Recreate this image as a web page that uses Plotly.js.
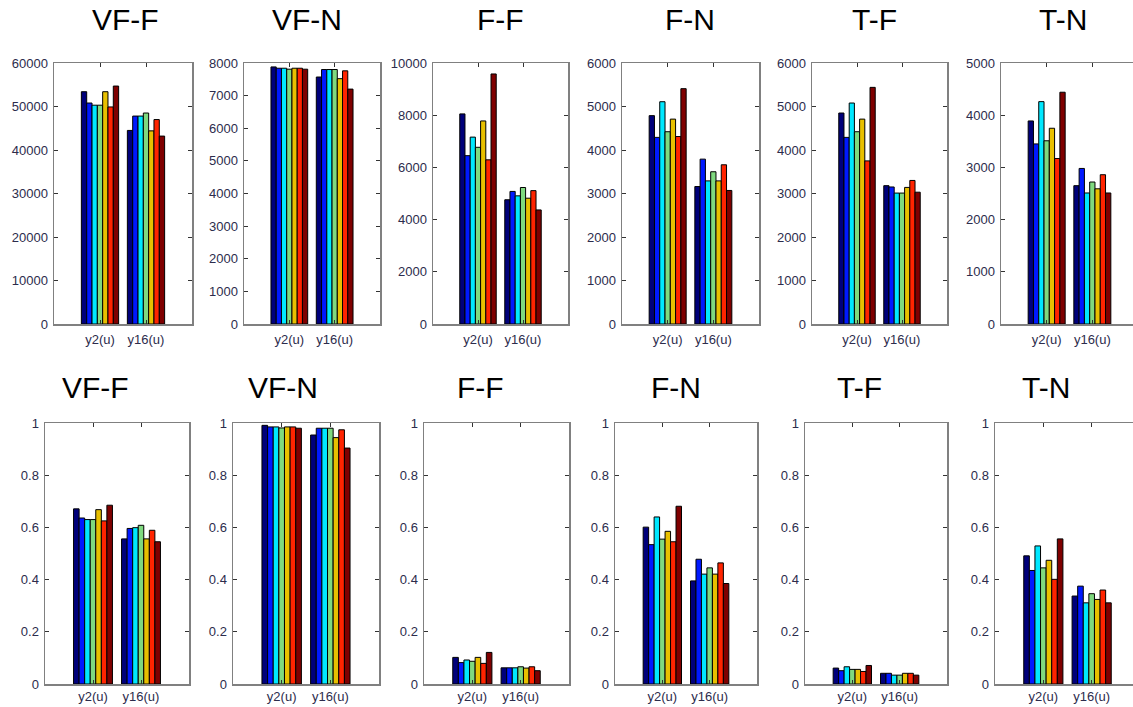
<!DOCTYPE html>
<html>
<head>
<meta charset="utf-8">
<script src="https://cdn.plot.ly/plotly-3.0.1.min.js"></script>
<style>html,body{margin:0;padding:0;background:#fff;}#chart{width:1133px;height:707px;}</style>
</head>
<body>
<div id="chart"></div>
<script>
// categories and series
const categories = ['y2(u)', 'y16(u)'];
const seriesColors = ['#00007a', '#0019ff', '#00e8ff', '#7fd97f', '#e8c000', '#ff2400', '#7f0000'];
const panelTitles = ['VF-F', 'VF-N', 'F-F', 'F-N', 'T-F', 'T-N'];

// top row (counts): [y2(u) values for 7 series], [y16(u) values for 7 series]
const countVFF_y2 = [53400, 50800, 50300, 50300, 53400, 49900, 54700];
const countVFF_y16 = [44500, 47800, 47800, 48500, 44400, 47000, 43200];
const countVFN_y2 = [7880, 7840, 7840, 7810, 7840, 7840, 7810];
const countVFN_y16 = [7570, 7800, 7800, 7800, 7520, 7760, 7200];
const countFF_y2 = [8050, 6450, 7160, 6770, 7780, 6290, 9580];
const countFF_y16 = [4760, 5080, 4910, 5230, 4820, 5110, 4370];
const countFN_y2 = [4790, 4290, 5110, 4420, 4710, 4310, 5410];
const countFN_y16 = [3160, 3790, 3290, 3500, 3290, 3660, 3070];
const countTF_y2 = [4850, 4290, 5080, 4420, 4710, 3750, 5440];
const countTF_y16 = [3180, 3150, 3010, 3010, 3140, 3300, 3030];
const countTN_y2 = [3890, 3450, 4260, 3510, 3750, 3170, 4440];
const countTN_y16 = [2650, 2980, 2510, 2720, 2590, 2860, 2510];

// bottom row (fractions)
const fracVFF_y2 = [0.671, 0.636, 0.630, 0.630, 0.668, 0.625, 0.685];
const fracVFF_y16 = [0.556, 0.596, 0.599, 0.608, 0.556, 0.589, 0.545];
const fracVFN_y2 = [0.991, 0.985, 0.985, 0.981, 0.985, 0.985, 0.980];
const fracVFN_y16 = [0.954, 0.980, 0.980, 0.980, 0.944, 0.974, 0.904];
const fracFF_y2 = [0.102, 0.082, 0.092, 0.087, 0.102, 0.079, 0.121];
const fracFF_y16 = [0.062, 0.062, 0.062, 0.066, 0.061, 0.066, 0.051];
const fracFN_y2 = [0.601, 0.534, 0.640, 0.555, 0.585, 0.545, 0.681];
const fracFN_y16 = [0.395, 0.478, 0.421, 0.445, 0.421, 0.464, 0.385];
const fracTF_y2 = [0.061, 0.051, 0.066, 0.056, 0.056, 0.048, 0.071];
const fracTF_y16 = [0.041, 0.041, 0.034, 0.034, 0.041, 0.041, 0.034];
const fracTN_y2 = [0.491, 0.435, 0.529, 0.445, 0.474, 0.401, 0.556];
const fracTN_y16 = [0.337, 0.375, 0.311, 0.346, 0.324, 0.360, 0.311];

const topYMax = [60000, 8000, 10000, 6000, 6000, 5000];
const topDtick = [10000, 1000, 2000, 1000, 1000, 1000];

const panels = [
  [countVFF_y2, countVFF_y16], [countVFN_y2, countVFN_y16], [countFF_y2, countFF_y16],
  [countFN_y2, countFN_y16], [countTF_y2, countTF_y16], [countTN_y2, countTN_y16],
  [fracVFF_y2, fracVFF_y16], [fracVFN_y2, fracVFN_y16], [fracFF_y2, fracFF_y16],
  [fracFN_y2, fracFN_y16], [fracTF_y2, fracTF_y16], [fracTN_y2, fracTN_y16]
];

const W = 1133, H = 707;
const topX = [[54,192],[244,380],[433,568],[622,759],[812,947],[1001,1138]];
const botX = [[45,189],[233,379],[424,569],[615,757],[805,947],[995,1140]];
const topY = [63, 324], botY = [423, 684];
const topTitleX = [125, 307, 500, 690, 874, 1063];
const botTitleX = [95, 283, 480, 676, 859, 1046];

const traces = [];
const layout = {
  width: W, height: H,
  margin: {l: 0, r: 0, t: 0, b: 0},
  paper_bgcolor: '#ffffff', plot_bgcolor: '#ffffff',
  showlegend: false,
  barmode: 'group', bargap: 0.19, bargroupgap: 0,
  font: {family: 'Liberation Sans, Arial, sans-serif'},
  annotations: []
};

const tickFont = {family: 'Liberation Sans, Arial, sans-serif', size: 13, color: '#2c2c4c'};

panels.forEach((p, k) => {
  const row = k < 6 ? 0 : 1;
  const col = k % 6;
  const xf = row === 0 ? topX[col] : botX[col];
  const yf = row === 0 ? topY : botY;
  const scale = (xf[1] - xf[0]) / 3;
  const right = Math.min(xf[1], W);
  const xmax = -1 + (right - xf[0]) / scale;
  const suffix = k === 0 ? '' : String(k + 1);
  for (let s = 0; s < 7; s++) {
    traces.push({
      type: 'bar',
      x: categories,
      y: [p[0][s], p[1][s]],
      xaxis: 'x' + suffix, yaxis: 'y' + suffix,
      marker: {color: seriesColors[s], line: {color: '#000000', width: 1}},
      hoverinfo: 'y'
    });
  }
  const clipped = xf[1] > W;
  layout['xaxis' + suffix] = {
    domain: [xf[0] / W, right / W],
    anchor: 'y' + suffix,
    type: 'category',
    range: [-1, xmax],
    showline: true, linecolor: '#808080', linewidth: 1.5,
    mirror: 'ticks', ticks: 'inside', ticklen: 4, tickcolor: '#333333',
    tickfont: tickFont, showgrid: false, zeroline: false, fixedrange: true,
    ticklabelstandoff: row === 0 ? 3 : 0
  };
  layout['yaxis' + suffix] = {
    domain: [1 - yf[1] / H, 1 - yf[0] / H],
    anchor: 'x' + suffix,
    range: [0, row === 0 ? topYMax[col] : 1],
    dtick: row === 0 ? topDtick[col] : 0.2,
    tick0: 0,
    tickformat: row === 0 ? 'd' : '',
    exponentformat: 'none',
    showline: true, linecolor: '#808080', linewidth: 1.5,
    mirror: clipped ? false : 'ticks', ticks: 'inside', ticklen: 4, tickcolor: '#333333',
    tickfont: tickFont, showgrid: false, zeroline: false, fixedrange: true,
    ticklabelstandoff: 2
  };
  const tx = row === 0 ? topTitleX[col] : botTitleX[col];
  const ty = row === 0 ? 20 : 387;
  layout.annotations.push({
    text: panelTitles[col], xref: 'paper', yref: 'paper',
    x: tx / W, y: 1 - ty / H, xanchor: 'center', yanchor: 'middle',
    showarrow: false,
    font: {family: 'Liberation Sans, Arial, sans-serif', size: 30, color: '#000000'}
  });
});

Plotly.newPlot('chart', traces, layout, {displayModeBar: false, staticPlot: true});
</script>
</body>
</html>
